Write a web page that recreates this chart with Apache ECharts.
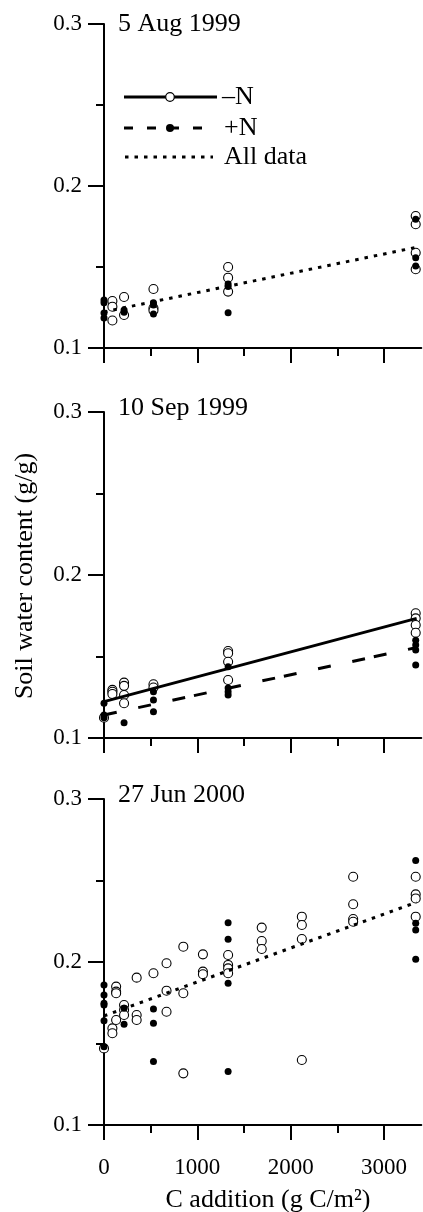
<!DOCTYPE html>
<html>
<head>
<meta charset="utf-8">
<script src="https://cdn.jsdelivr.net/npm/echarts@6/dist/echarts.min.js"></script>
<style>
  html, body { margin: 0; padding: 0; background: #fff; }
  #chart { width: 423px; height: 1212px; }
</style>
</head>
<body>
<div id="chart"></div>
<script>
// soil water content vs C addition, three sampling dates
const FONT = 'Liberation Serif'

const panelTitles = ['5 Aug 1999', '10 Sep 1999', '27 Jun 2000']
const xMajor = [0, 1000, 2000, 3000]
const xMinor = [500, 1500, 2500]
const yMajor = [0.1, 0.2, 0.3]
const yMinor = [0.15, 0.25]

// 5 Aug 1999
const aug99MinusN = [
  [90, 0.129], [90, 0.1255], [90, 0.117],
  [215, 0.1315], [215, 0.1204],
  [530, 0.1364], [530, 0.1247], [530, 0.1232],
  [1330, 0.150], [1330, 0.1434], [1330, 0.1348],
  [3340, 0.1815], [3340, 0.1764], [3340, 0.1588], [3340, 0.1486]
]
const aug99PlusN = [
  [0, 0.1296], [0, 0.128], [0, 0.1216], [0, 0.1185],
  [215, 0.1235], [215, 0.122],
  [530, 0.128], [530, 0.1265], [530, 0.121],
  [1330, 0.138], [1330, 0.1395], [1330, 0.1218],
  [3340, 0.1794], [3340, 0.1557], [3340, 0.1506]
]
const aug99AllFit = [[0, 0.1223], [3350, 0.1622]]

// 10 Sep 1999
const sep99MinusN = [
  [0, 0.1125],
  [90, 0.1295], [90, 0.1284], [90, 0.127],
  [215, 0.134], [215, 0.132], [215, 0.1264], [215, 0.1213],
  [530, 0.133], [530, 0.131],
  [1330, 0.1534], [1330, 0.152], [1330, 0.1468], [1330, 0.1356],
  [3340, 0.1765], [3340, 0.1734], [3340, 0.1693], [3340, 0.1646]
]
const sep99PlusN = [
  [0, 0.1213], [0, 0.1141], [0, 0.1125],
  [215, 0.1094],
  [530, 0.1284], [530, 0.1233], [530, 0.1161],
  [1330, 0.1437], [1330, 0.1307], [1330, 0.1284], [1330, 0.1264],
  [3340, 0.160], [3340, 0.157], [3340, 0.154], [3340, 0.1448]
]
const sep99MinusFit = [[0, 0.1223], [3350, 0.1734]]
const sep99PlusFit = [[0, 0.1141], [3350, 0.1555]]

// 27 Jun 2000
const jun00MinusN = [
  [0, 0.147],
  [90, 0.1593], [90, 0.1563],
  [130, 0.1849], [130, 0.1818], [130, 0.1808], [130, 0.1644],
  [215, 0.1736], [215, 0.1706], [215, 0.1675],
  [350, 0.1904], [350, 0.1675], [350, 0.1644],
  [530, 0.1931],
  [670, 0.1992], [670, 0.1824], [670, 0.1695],
  [850, 0.2094], [850, 0.1808], [850, 0.1317],
  [1060, 0.2047], [1060, 0.1941], [1060, 0.1925],
  [1330, 0.2043], [1330, 0.1982], [1330, 0.1961], [1330, 0.1931],
  [1690, 0.2211], [1690, 0.2129], [1690, 0.208],
  [2120, 0.2278], [2120, 0.2227], [2120, 0.2141], [2120, 0.1399],
  [2670, 0.2523], [2670, 0.2354], [2670, 0.2264], [2670, 0.2247],
  [3340, 0.2523], [3340, 0.2415], [3340, 0.239], [3340, 0.2278]
]
const jun00PlusN = [
  [0, 0.1859], [0, 0.1798], [0, 0.1747], [0, 0.1736], [0, 0.164], [0, 0.148],
  [215, 0.1716], [215, 0.1618],
  [530, 0.1712], [530, 0.1624], [530, 0.1389],
  [1330, 0.2241], [1330, 0.2139], [1330, 0.1869], [1330, 0.1328],
  [3340, 0.2622], [3340, 0.2237], [3340, 0.2196], [3340, 0.2017]
]
const jun00AllFit = [[0, 0.1669], [3350, 0.2367]]

const gridTops = [24, 412, 799]
const gridHeights = [324, 326, 326]
const titleY = [24, 408, 795]

const axisColor = '#000'
const dashedPattern = [13, 22, 13, 22, 13, 9]
const dottedPattern = [3.5, 6]

const chart = echarts.init(document.getElementById('chart'), null, { renderer: 'canvas' })

const grids = gridTops.map((t, i) => ({
  left: 104,
  top: t,
  width: 317.3,
  height: gridHeights[i],
  containLabel: false,
  outerBoundsMode: 'none'
}))

const xAxes = []
const yAxes = []
gridTops.forEach((t, i) => {
  const last = i === gridTops.length - 1
  xAxes.push({
    gridIndex: i,
    type: 'value',
    min: 0,
    max: 3400,
    interval: 1000,
    position: 'bottom',
    axisLine: { show: true, onZero: false, lineStyle: { color: axisColor, width: 2 } },
    axisTick: { show: true, length: 15, customValues: xMajor, lineStyle: { color: axisColor, width: 2 } },
    axisLabel: {
      show: last,
      customValues: xMajor,
      margin: 31,
      color: '#000',
      fontFamily: FONT,
      fontSize: 23,
      formatter: v => String(v)
    },
    splitLine: { show: false }
  })
  xAxes.push({
    gridIndex: i,
    type: 'value',
    min: 0,
    max: 3400,
    interval: 1000,
    position: 'bottom',
    axisLine: { show: false },
    axisTick: { show: true, length: 8, customValues: xMinor, lineStyle: { color: axisColor, width: 2 } },
    axisLabel: { show: false },
    splitLine: { show: false }
  })
  yAxes.push({
    gridIndex: i,
    type: 'value',
    min: 0.1,
    max: 0.3,
    interval: 0.1,
    position: 'left',
    axisLine: { show: true, onZero: false, lineStyle: { color: axisColor, width: 2 } },
    axisTick: { show: true, length: 16, customValues: yMajor, lineStyle: { color: axisColor, width: 2 } },
    axisLabel: {
      customValues: yMajor,
      margin: 22,
      color: '#000',
      fontFamily: FONT,
      fontSize: 23,
      formatter: v => v.toFixed(1)
    },
    splitLine: { show: false }
  })
  yAxes.push({
    gridIndex: i,
    type: 'value',
    min: 0.1,
    max: 0.3,
    interval: 0.1,
    position: 'left',
    axisLine: { show: false },
    axisTick: { show: true, length: 8, customValues: yMinor, lineStyle: { color: axisColor, width: 2 } },
    axisLabel: { show: false },
    splitLine: { show: false }
  })
})

function openDots(i, data) {
  return {
    name: '-N', type: 'scatter', xAxisIndex: i * 2, yAxisIndex: i * 2,
    data: data, symbol: 'circle', symbolSize: 9, z: 3,
    itemStyle: { color: '#fff', borderColor: '#000', borderWidth: 1.1, opacity: 1 }
  }
}
function filledDots(i, data) {
  return {
    name: '+N', type: 'scatter', xAxisIndex: i * 2, yAxisIndex: i * 2,
    data: data, symbol: 'circle', symbolSize: 7, z: 4,
    itemStyle: { color: '#000', opacity: 1 }
  }
}
function fitLine(i, name, data, type, width) {
  return {
    name: name, type: 'line', xAxisIndex: i * 2, yAxisIndex: i * 2,
    data: data, showSymbol: false, symbol: 'none', z: 5, silent: true,
    lineStyle: { color: '#000', width: width, type: type, cap: 'butt' }
  }
}

const series = [
  openDots(0, aug99MinusN),
  filledDots(0, aug99PlusN),
  fitLine(0, 'All data', aug99AllFit, dottedPattern, 3),
  openDots(1, sep99MinusN),
  filledDots(1, sep99PlusN),
  fitLine(1, '-N', sep99MinusFit, 'solid', 3),
  fitLine(1, '+N', sep99PlusFit, dashedPattern, 3),
  openDots(2, jun00MinusN),
  filledDots(2, jun00PlusN),
  fitLine(2, 'All data', jun00AllFit, dottedPattern, 3)
]

const textStyle = (txt, size) => ({ text: txt, fill: '#000', fontFamily: FONT, fontSize: size })

const graphic = []
panelTitles.forEach((t, i) => {
  graphic.push({
    type: 'text', x: 118, y: titleY[i],
    style: Object.assign(textStyle(t, 26), { verticalAlign: 'middle' })
  })
})
// legend drawn by hand in the first panel
graphic.push(
  { type: 'line', shape: { x1: 124, y1: 97, x2: 217, y2: 97 }, style: { stroke: '#000', lineWidth: 3.2 } },
  { type: 'circle', shape: { cx: 170, cy: 97, r: 4.3 }, style: { fill: '#fff', stroke: '#000', lineWidth: 1.2 } },
  { type: 'text', x: 222, y: 97, style: Object.assign(textStyle('\u2013N', 26), { verticalAlign: 'middle' }) },
  { type: 'line', shape: { x1: 124, y1: 128, x2: 216, y2: 128 }, style: { stroke: '#000', lineWidth: 3.2, lineDash: [9, 14] } },
  { type: 'circle', shape: { cx: 170, cy: 128, r: 4 }, style: { fill: '#000' } },
  { type: 'text', x: 224, y: 128, style: Object.assign(textStyle('+N', 26), { verticalAlign: 'middle' }) },
  { type: 'line', shape: { x1: 125, y1: 157, x2: 213, y2: 157 }, style: { stroke: '#000', lineWidth: 3, lineDash: dottedPattern } },
  { type: 'text', x: 224, y: 157, style: Object.assign(textStyle('All data', 26), { verticalAlign: 'middle' }) }
)
// axis titles
graphic.push(
  { type: 'text', x: 25, y: 576, rotation: Math.PI / 2,
    style: Object.assign(textStyle('Soil water content (g/g)', 26), { align: 'center', verticalAlign: 'middle' }) },
  { type: 'text', x: 268, y: 1200,
    style: Object.assign(textStyle('C addition (g C/m\u00B2)', 26), { align: 'center', verticalAlign: 'middle' }) }
)

const option = {
  animation: false,
  backgroundColor: '#fff',
  grid: grids,
  xAxis: xAxes,
  yAxis: yAxes,
  series: series,
  graphic: graphic
}

chart.setOption(option)
</script>
</body>
</html>
